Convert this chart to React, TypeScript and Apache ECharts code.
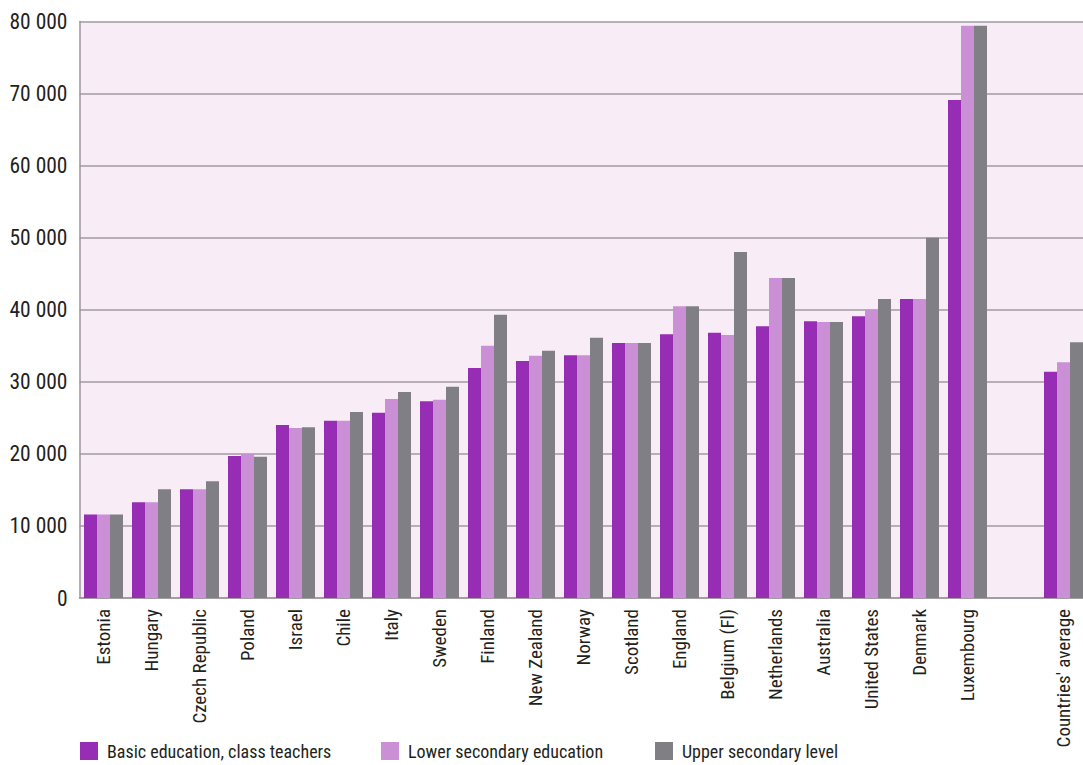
import React, { useEffect, useRef } from "react";
import * as echarts from "echarts";

const categories = [
  "Estonia", "Hungary", "Czech Republic", "Poland", "Israel", "Chile", "Italy",
  "Sweden", "Finland", "New Zealand", "Norway", "Scotland", "England",
  "Belgium (Fl)", "Netherlands", "Australia", "United States", "Denmark",
  "Luxembourg", "", "Countries' average",
];

const basicEducation = [
  11600, 13300, 15100, 19700, 24000, 24600, 25700, 27300, 31900, 32900, 33700,
  35400, 36600, 36800, 37700, 38400, 39100, 41500, 69100, null, 31400,
];
const lowerSecondary = [
  11600, 13300, 15100, 20000, 23600, 24600, 27600, 27500, 35000, 33600, 33700,
  35400, 40500, 36500, 44400, 38300, 40000, 41500, 79400, null, 32700,
];
const upperSecondary = [
  11600, 15100, 16200, 19600, 23700, 25800, 28600, 29300, 39300, 34300, 36100,
  35400, 40500, 48000, 44400, 38300, 41500, 50000, 79400, null, 35500,
];

const seriesNames = [
  "Basic education, class teachers",
  "Lower secondary education",
  "Upper secondary level",
];
const seriesColors = ["#982db5", "#cb8fd6", "#808084"];

const FONT = "'Roboto Condensed', 'DejaVu Sans Condensed', sans-serif";
const TEXT = "#231f20";

export default function App() {
  const ref = useRef<HTMLDivElement>(null);
  useEffect(() => {
    if (!ref.current) return;
    const chart = echarts.init(ref.current, undefined, { renderer: "svg" });
    const data = [basicEducation, lowerSecondary, upperSecondary];
    const legendLefts = [80, 381, 655];
    chart.setOption({
      animation: false,
      backgroundColor: "#ffffff",
      grid: {
        left: 79.5,
        right: -4.5,
        top: 21.5,
        bottom: 167,
        show: true,
        backgroundColor: "#f8ecf7",
        borderWidth: 0,
        containLabel: false,
        outerBoundsMode: "none",
      },
      legend: seriesNames.map((n, i) => ({
        data: [n],
        left: legendLefts[i],
        top: 742,
        itemWidth: 18,
        itemHeight: 18,
        icon: "rect",
        selectedMode: false,
        padding: 0,
        textStyle: {
          fontFamily: FONT,
          fontSize: 18,
          color: TEXT,
          padding: [0, 0, 0, 4],
        },
      })),
      xAxis: {
        type: "category",
        data: categories,
        axisTick: { show: false },
        axisLine: { lineStyle: { color: "#9c979d", width: 1.5 } },
        axisLabel: {
          rotate: 90,
          interval: 0,
          margin: 11,
          fontFamily: FONT,
          fontSize: 19,
          color: TEXT,
        },
      },
      yAxis: {
        type: "value",
        min: 0,
        max: 80000,
        interval: 10000,
        axisLine: { show: true, lineStyle: { color: "#9c979d", width: 1.5 } },
        axisTick: { show: false },
        splitLine: { lineStyle: { color: "#a09ba3", width: 1.5 } },
        axisLabel: {
          margin: 12,
          fontFamily: FONT,
          fontSize: 21.5,
          color: TEXT,
          formatter: (v: number) =>
            String(v).replace(/\B(?=(\d{3})+(?!\d))/g, " "),
        },
      },
      series: seriesNames.map((n, i) => ({
        name: n,
        type: "bar",
        data: data[i],
        barWidth: 13,
        barGap: "0%",
        itemStyle: { color: seriesColors[i] },
      })),
    });
    return () => chart.dispose();
  }, []);
  return (
    <div
      ref={ref}
      style={{ position: "fixed", left: 0, top: 0, width: 1083, height: 765 }}
    />
  );
}
